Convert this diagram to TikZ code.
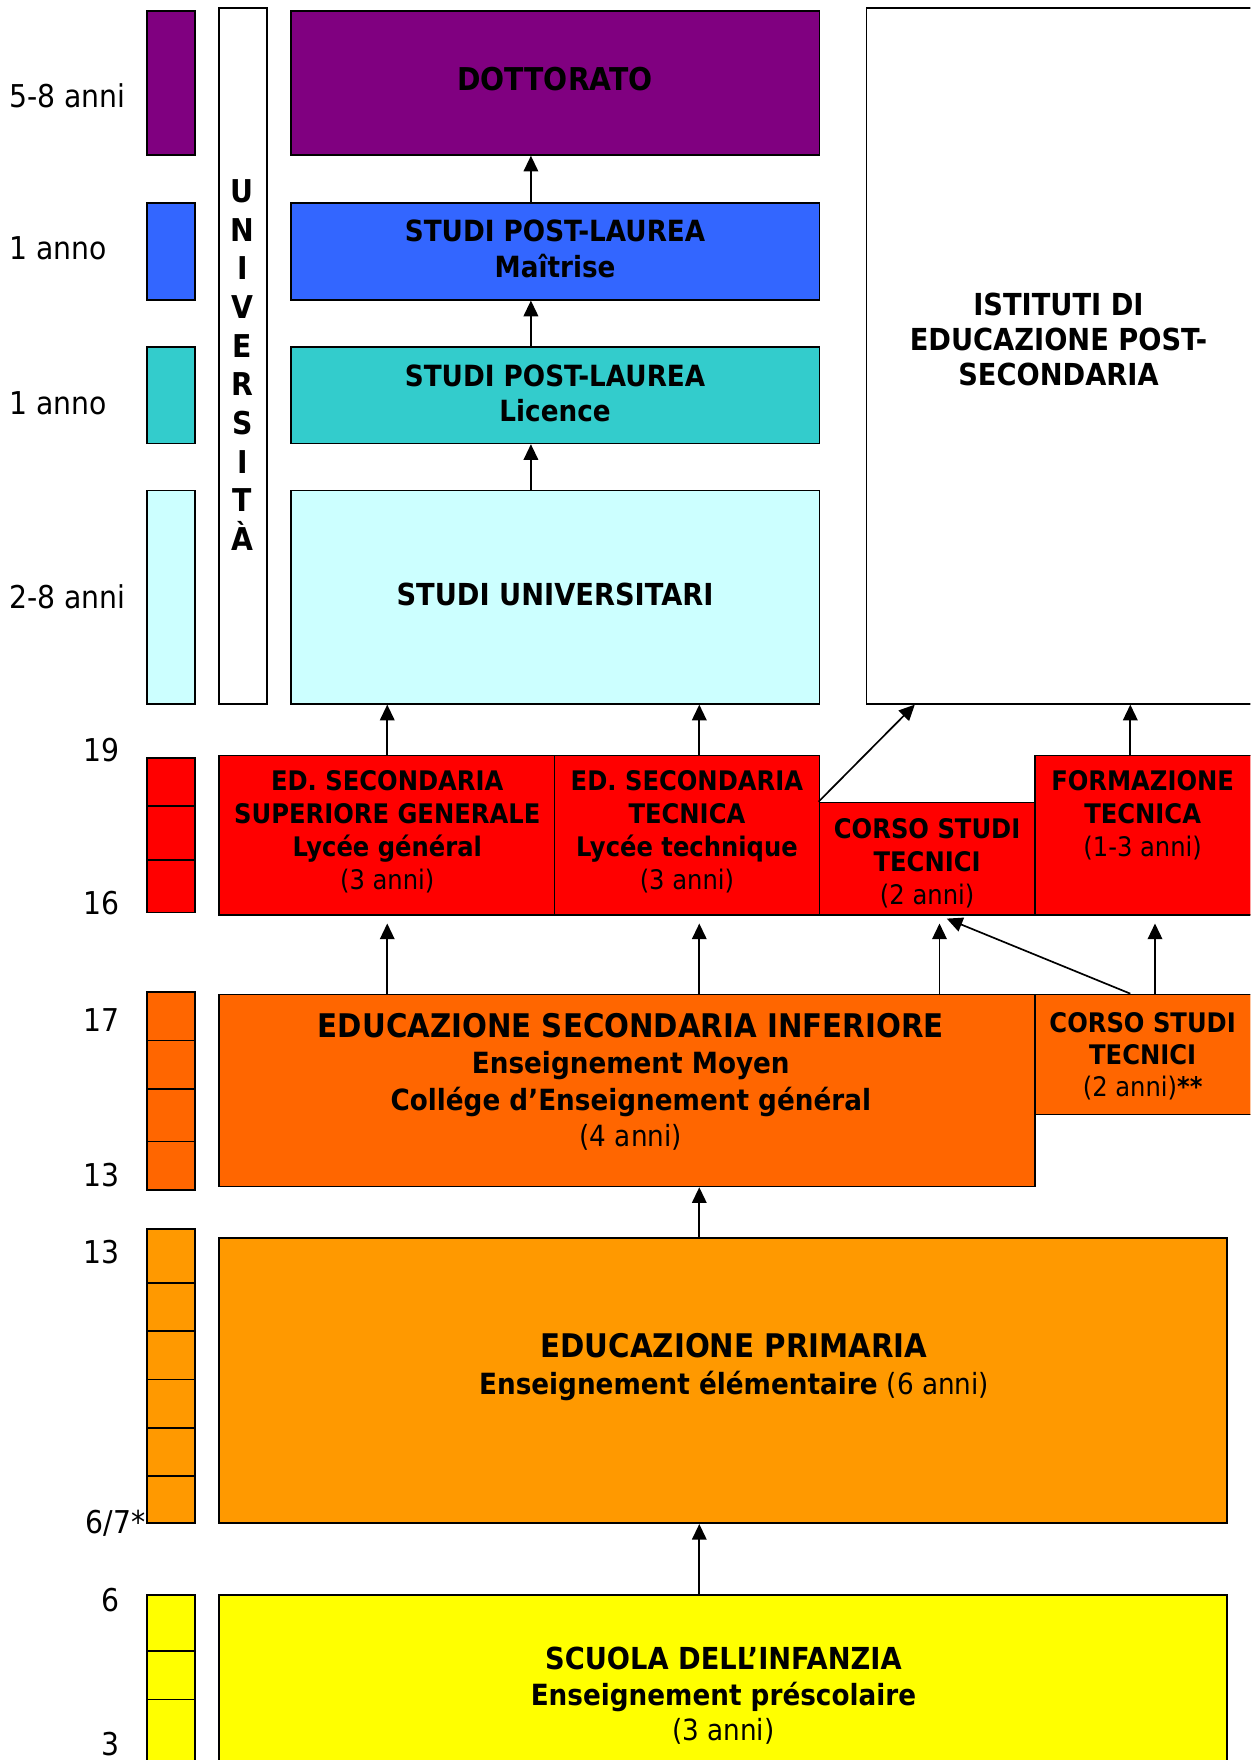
\documentclass[tikz,border=0pt]{standalone}
\usepackage{fontspec}
\setmainfont{DejaVu Sans}[FakeStretch=0.9]
\usetikzlibrary{arrows.meta,fit}
\newcommand\fz[2]{\fontsize{#1}{#2}\selectfont}
\definecolor{cPurple}{RGB}{128,0,128}
\definecolor{cBlue}{RGB}{51,102,255}
\definecolor{cTeal}{RGB}{51,204,204}
\definecolor{cLight}{RGB}{204,255,255}
\definecolor{cRed}{RGB}{255,0,0}
\definecolor{cDOrange}{RGB}{255,102,0}
\definecolor{cOrange}{RGB}{255,153,0}
\definecolor{cYellow}{RGB}{255,255,0}
\tikzset{
  box/.style={draw, line width=0.75pt, inner sep=0pt},
  txt/.style={inner sep=0pt, align=center, anchor=north},
  lbl/.style={inner sep=0pt, font=\fz{14}{17}},
  arr/.style={line width=0.75pt, -{Triangle[length=7pt,width=6.5pt]}},
  divl/.style={line width=0.75pt},
}
\begin{document}
\begin{tikzpicture}[x=0.5pt,y=-0.5pt]
\useasboundingbox (0,0) rectangle (1114,1568);
\clip (0,0) rectangle (1114,1568);

% ---------- age bars ----------
\node[box, fill=cPurple, fit={(131,10)(174,138)}] (b1) {};
\node[box, fill=cBlue, fit={(131,181)(174,267)}] (b2) {};
\node[box, fill=cTeal, fit={(131,309)(174,395)}] (b3) {};
\node[box, fill=cLight, fit={(131,437)(174,627)}] (b4) {};
\node[box, fill=cRed, fit={(131,675)(174,813)}] (b5) {};
\node[box, fill=cDOrange, fit={(131,884)(174,1060)}] (b6) {};
\node[box, fill=cOrange, fit={(131,1095)(174,1357)}] (b7) {};
\node[box, fill=cYellow, fit={(131,1421)(174,1600)}] (b8) {};
\foreach \yy in {718,766} \draw[divl] (b5.west |- 0,\yy) -- (b5.east |- 0,\yy);
\foreach \yy in {927,970,1017} \draw[divl] (b6.west |- 0,\yy) -- (b6.east |- 0,\yy);
\foreach \yy in {1143,1186,1229,1272,1315} \draw[divl] (b7.west |- 0,\yy) -- (b7.east |- 0,\yy);
\foreach \yy in {1471,1514} \draw[divl] (b8.west |- 0,\yy) -- (b8.east |- 0,\yy);

% ---------- left labels ----------
\node[lbl, anchor=north west] (l1) at (8,73.8) {5-8 anni};
\node[lbl, anchor=north west] (l2) at (8,210.8) {1 anno};
\node[lbl, anchor=north west] (l3) at (8,348.8) {1 anno};
\node[lbl, anchor=north west] (l4) at (8,520.8) {2-8 anni};
\node[lbl, anchor=north east] (n19) at (107,656.8) {19};
\node[lbl, anchor=north east] (n16) at (107,793.8) {16};
\node[lbl, anchor=north east] (n17) at (107,897.8) {17};
\node[lbl, anchor=north east] (n13a) at (107,1035.8) {13};
\node[lbl, anchor=north east] (n13b) at (107,1104.8) {13};
\node[lbl, anchor=north west] (n67) at (76,1344.8) {6/7*};
\node[lbl, anchor=north east] (n6) at (107,1414.8) {6};
\node[lbl, anchor=north east] (n3) at (107,1542.5) {3};

% ---------- university column ----------
\node[box, fill=white, fit={(195,7)(238,627)}] (ucol) {};
\node[txt, font=\bfseries\fz{14}{17.2}] (ucoltxt) at (216,159.8) {U\\N\\I\\V\\E\\R\\S\\I\\T\\À};

% ---------- university boxes ----------
\node[box, fill=cPurple, fit={(259,10)(730,138)}] (dott) {};
\node[txt, font=\bfseries\fz{14}{17}] (tdott) at (494.5,59.8) {DOTTORATO};
\node[box, fill=cBlue, fit={(259,181)(730,267)}] (mait) {};
\node[txt, font=\bfseries\fz{13}{15.8}] (tmait) at (494.5,195.5) {STUDI POST-LAUREA\\Maîtrise};
\node[box, fill=cTeal, fit={(259,309)(730,395)}] (lic) {};
\node[txt, font=\bfseries\fz{13}{15.8}] (tlic) at (494.5,324.5) {STUDI POST-LAUREA\\Licence};
\node[box, fill=cLight, fit={(259,437)(730,627)}] (univ) {};
\node[txt, font=\bfseries\fz{13.5}{16}] (tuniv) at (494.5,519.2) {STUDI UNIVERSITARI};

% ---------- post-secondary ----------
\node[box, fill=white, fit={(772,7)(1130,627)}] (ist) {};
\node[txt, font=\bfseries\fz{13.5}{15.8}] (tist) at (943,260.2) {ISTITUTI DI\\EDUCAZIONE POST-\\SECONDARIA};

% ---------- upper secondary ----------
\node[box, fill=cRed, fit={(195,673)(494,815)}] (supgen) {};
\node[txt, font=\bfseries\fz{12}{14.6}] (tsupgen) at (345,686.2) {ED. SECONDARIA\\SUPERIORE GENERALE\\Lycée général\\{\mdseries (3 anni)}};
\node[box, fill=cRed, fit={(494,673)(730,815)}] (tec) {};
\node[txt, font=\bfseries\fz{12}{14.6}] (ttec) at (612,686.2) {ED. SECONDARIA\\TECNICA\\Lycée technique\\{\mdseries (3 anni)}};
\node[box, fill=cRed, fit={(730,715)(922,815)}] (corso) {};
\node[txt, font=\bfseries\fz{12}{14.6}] (tcorso) at (826,729.2) {CORSO STUDI\\TECNICI\\{\mdseries (2 anni)}};
\node[box, fill=cRed, fit={(922,673)(1130,815)}] (form) {};
\node[txt, font=\bfseries\fz{12}{14.6}] (tform) at (1018,686.2) {FORMAZIONE\\TECNICA\\{\mdseries (1-3 anni)}};

% ---------- lower secondary ----------
\node[box, fill=cDOrange, fit={(195,886)(922,1057)}] (inf) {};
\node[txt, font=\bfseries\fz{14.5}{16.2}] (tinf) at (562,902.4) {EDUCAZIONE SECONDARIA INFERIORE\\{\fz{13}{16.2}Enseignement Moyen}\\{\fz{13}{16.2}Collége d’Enseignement général}\\{\fz{13}{16.2}\mdseries (4 anni)}};
\node[box, fill=cDOrange, fit={(922,886)(1130,993)}] (corso2) {};
\node[txt, font=\bfseries\fz{12}{14.4}] (tcorso2) at (1018,901.2) {CORSO STUDI\\TECNICI\\{\mdseries (2 anni)}**};

% ---------- primary ----------
\node[box, fill=cOrange, fit={(195,1103)(1093,1357)}] (prim) {};
\node[txt, font=\bfseries\fz{14.5}{16.5}] (tprim) at (654,1187.4) {EDUCAZIONE PRIMARIA\\{\fz{13}{16.5}Enseignement élémentaire {\mdseries (6 anni)}}};

% ---------- pre-school ----------
\node[box, fill=cYellow, fit={(195,1421)(1093,1600)}] (inf0) {};
\node[txt, font=\bfseries\fz{13.5}{15.8}] (tinf0) at (644.5,1467.2) {SCUOLA DELL’INFANZIA\\{\fz{13}{15.8}Enseignement préscolaire}\\{\fz{13}{15.8}\mdseries (3 anni)}};

% ---------- arrows ----------
\draw[arr] (473,0 |- mait.north) -- (473,0 |- dott.south);
\draw[arr] (473,0 |- lic.north) -- (473,0 |- mait.south);
\draw[arr] (473,0 |- univ.north) -- (473,0 |- lic.south);
\draw[arr] (345,0 |- supgen.north) -- (345,0 |- univ.south);
\draw[arr] (623,0 |- tec.north) -- (623,0 |- univ.south);
\draw[arr] (corso.north west) -- (815,0 |- ist.south);
\draw[arr] (1007,0 |- form.north) -- (1007,0 |- ist.south);
\draw[arr, shorten >=3.5pt] (345,0 |- inf.north) -- (345,0 |- supgen.south);
\draw[arr, shorten >=3.5pt] (623,0 |- inf.north) -- (623,0 |- tec.south);
\draw[arr, shorten >=3.5pt] (837,0 |- inf.north) -- (837,0 |- corso.south);
\draw[arr, shorten >=3.5pt] (1007,0 |- corso2.north) -- (837,0 |- corso.south);
\draw[arr, shorten >=3.5pt] (1029,0 |- corso2.north) -- (1029,0 |- form.south);
\draw[arr] (623,0 |- prim.north) -- (623,0 |- inf.south);
\draw[arr] (623,0 |- inf0.north) -- (623,0 |- prim.south);
\end{tikzpicture}
\end{document}
